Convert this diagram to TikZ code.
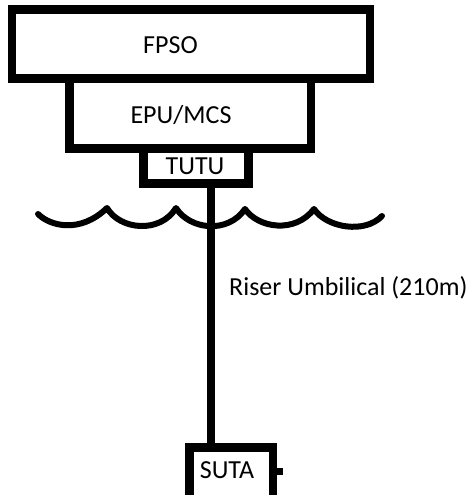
\documentclass[tikz,border=0pt]{standalone}
\usepackage{fontspec}
\setmainfont{Carlito}
\begin{document}
\begin{tikzpicture}[x=1pt,y=-1pt,
  blk/.style={draw=black,line width=8.5pt,inner sep=0pt,minimum width=#1},
  lbl/.style={font=\fontsize{26}{29}\selectfont,inner sep=0pt,anchor=center},
  link/.style={draw=black,line width=8pt},
  wave/.style={draw=black,line width=6pt,line cap=round,line join=round}]
\useasboundingbox[fill=white] (0,0) rectangle (474,495);
\node[blk=358pt,minimum height=69pt] (fpso) at (191,44) {};
\node[blk=241.5pt,minimum height=70pt] (epu) at (190.25,113.5) {};
\node[blk=105pt,minimum height=35pt,fill=white] (tutu) at (196,166) {};
\node[blk=83.5pt,minimum height=60pt] (suta) at (231.25,477.5) {};
\node[lbl] (tfpso) at (170.5,45) {FPSO};
\node[lbl] (tepu) at (181,115) {EPU/MCS};
\node[lbl] (ttutu) at (195,166.5) {TUTU};
\node[lbl] (tsuta) at (227,470.5) {SUTA};
\coordinate (r) at (211,0);
\draw[link] (r |- tutu.south) -- (r |- suta.north);
\coordinate (stubend) at (283,471.5);
\draw[line width=7pt] ([yshift=6pt]suta.east) -- (stubend);
\node[lbl,anchor=west] (triser) at (229,288) {Riser Umbilical (210m)};
\draw[wave] (38,214) .. controls (50,226) and (80,234) .. (107,208)
  .. controls (120,230) and (160,234) .. (176,208)
  .. controls (190,230) and (228,234) .. (245,209)
  .. controls (258,228) and (295,234) .. (314,209)
  .. controls (327,228) and (365,234) .. (382,216);
\end{tikzpicture}
\end{document}
